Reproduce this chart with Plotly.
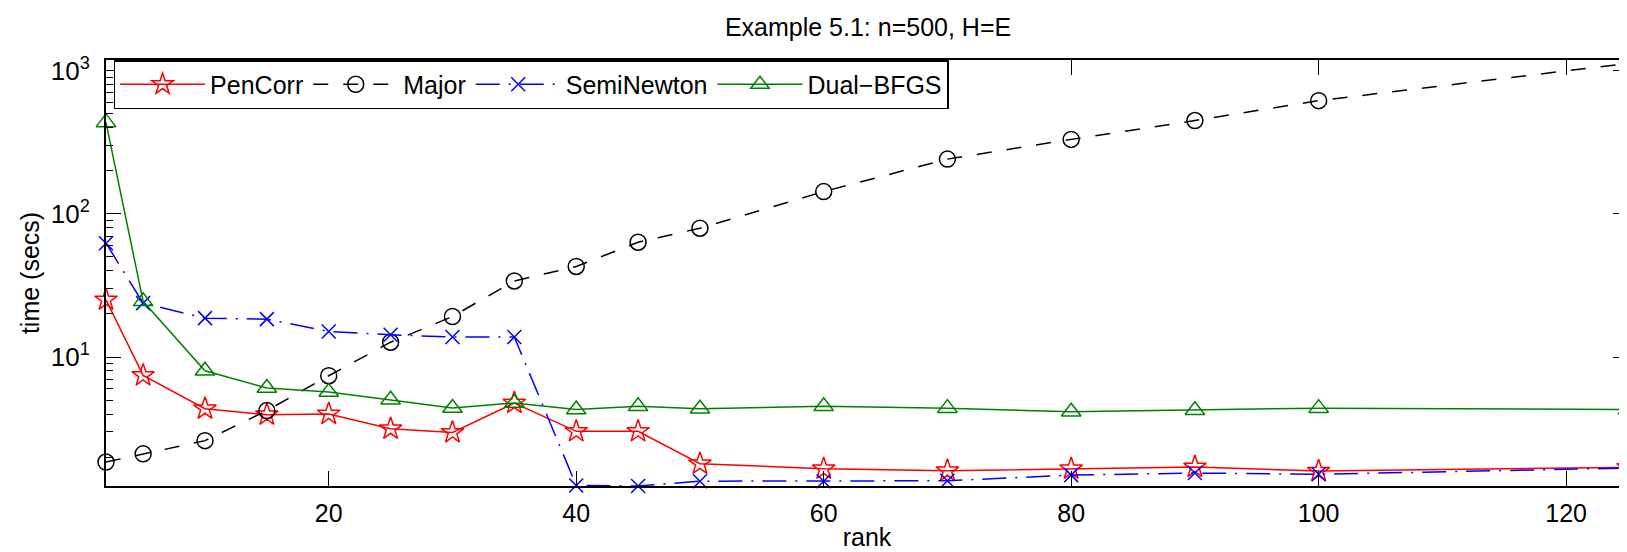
import plotly.graph_objects as go

rank = [2, 5, 10, 15, 20, 25, 30, 35, 40, 45, 50, 60, 70, 80, 90, 100, 125]
pencorr = [25.1, 7.45, 4.36, 3.96, 4.01, 3.16, 2.98, 4.78, 3.03, 3.03, 1.80, 1.66, 1.61, 1.66, 1.71, 1.60, 1.70]
major = [1.85, 2.11, 2.61, 4.23, 7.41, 12.7, 19.2, 34.0, 42.9, 63.4, 79.4, 143, 241, 331, 448, 617, 1122]
seminewton = [62.4, 23.8, 18.7, 18.4, 15.1, 14.3, 13.8, 13.8, 1.27, 1.26, 1.36, 1.36, 1.37, 1.50, 1.55, 1.52, 1.68]
dualbfgs = [435, 24.5, 8.03, 6.08, 5.7, 5.04, 4.41, 4.78, 4.3, 4.53, 4.36, 4.53, 4.4, 4.15, 4.25, 4.4, 4.3]

x_ticks = [20, 40, 60, 80, 100, 120]
y_ticks = [10, 100, 1000]
y_ticktext = ["10<sup>1</sup>", "10<sup>2</sup>", "10<sup>3</sup>"]
y_minor = [m * d for d in (1, 10, 100) for m in range(2, 10)]

FONT = "Liberation Sans, Arial, Helvetica, sans-serif"

fig = go.Figure()
fig.add_trace(go.Scatter(
    x=rank, y=pencorr, name="PenCorr", mode="lines+markers",
    line=dict(color="#ff0000", width=1.5),
    marker=dict(symbol="star-open", size=17, color="#ff0000", line=dict(width=1.5)),
    cliponaxis=False))
fig.add_trace(go.Scatter(
    x=rank, y=major, name="Major", mode="lines+markers",
    line=dict(color="#000000", width=1.5, dash="15px,15px"),
    marker=dict(symbol="circle-open", size=16, color="#000000", line=dict(width=1.5)),
    cliponaxis=False))
fig.add_trace(go.Scatter(
    x=rank, y=seminewton, name="SemiNewton", mode="lines+markers",
    line=dict(color="#0000ff", width=1.5, dash="24px,9px,2px,9px"),
    marker=dict(symbol="x-thin-open", size=14, color="#0000ff", line=dict(width=1.5, color="#0000ff")),
    cliponaxis=False))
fig.add_trace(go.Scatter(
    x=rank, y=dualbfgs, name="Dual\u2212BFGS", mode="lines+markers",
    line=dict(color="#008000", width=1.5),
    marker=dict(symbol="triangle-up-open", size=17, color="#008000", line=dict(width=1.5)),
    cliponaxis=False))

fig.update_layout(
    width=1627, height=552,
    margin=dict(l=98, r=5, t=52, b=74),
    paper_bgcolor="white", plot_bgcolor="white",
    font=dict(family=FONT, size=25, color="black"),
    title=dict(text="Example 5.1: n=500, H=E", x=0.5286, xanchor="center",
               y=0.965, yanchor="middle", font=dict(size=25, family=FONT)),
    showlegend=True,
    legend=dict(orientation="h", x=0.005, y=1.0, xanchor="left", yanchor="top",
                bordercolor="black", borderwidth=1.5, bgcolor="white",
                itemwidth=85,
                font=dict(size=25, family=FONT)),
    xaxis=dict(range=[2, 125], tickmode="array", tickvals=x_ticks,
               ticks="inside", ticklen=15, tickwidth=1, tickcolor="black",
               showline=True, linecolor="black", linewidth=2, mirror="ticks",
               showgrid=False, zeroline=False, ticklabelstandoff=4,
               tickfont=dict(size=25),
               title=dict(text="rank", font=dict(size=25), standoff=2)),
    yaxis=dict(type="log", range=[0.1, 3.074], tickmode="array", tickvals=y_ticks,
               ticktext=y_ticktext, ticks="inside", ticklen=15, tickwidth=1,
               tickcolor="black", showline=True, linecolor="black", linewidth=2,
               mirror="ticks", showgrid=False, zeroline=False, ticklabelstandoff=9,
               tickfont=dict(size=26),
               minor=dict(tickmode="array", tickvals=y_minor, ticks="inside",
                          ticklen=7, tickwidth=1, tickcolor="black", showgrid=False),
               title=dict(text="time (secs)", font=dict(size=25), standoff=4)),
)

fig.write_html("out.html")
